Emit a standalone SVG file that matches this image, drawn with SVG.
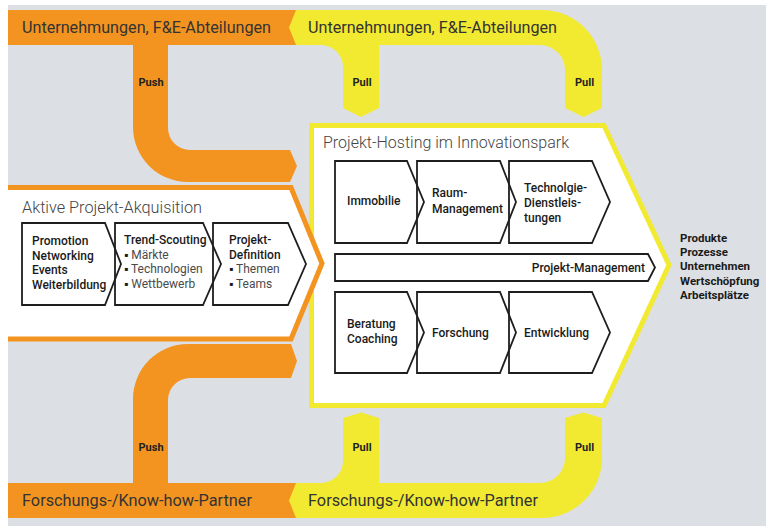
<svg xmlns="http://www.w3.org/2000/svg" width="766" height="526" viewBox="0 0 766 526">
  <style>
    .orange { fill: #f39420; }
    .yellow { fill: #f2ea30; }
    .band-label { font-family: Roboto, "Liberation Sans", sans-serif; font-size: 16.5px; font-weight: 400; fill: #333; }
    .title { font-family: Roboto, "Liberation Sans", sans-serif; font-size: 16.5px; font-weight: 300; fill: #444; }
    .flow { font-family: Roboto, "Liberation Sans", sans-serif; font-size: 11px; font-weight: 700; fill: #222; }
    .step { fill: none; stroke: #1e1e1e; stroke-width: 1.8; stroke-linejoin: miter; }
    .b { font-family: Roboto, "Liberation Sans", sans-serif; font-size: 12px; font-weight: 500; fill: #1a1a1a; }
    .li { font-family: Roboto, "Liberation Sans", sans-serif; font-size: 12px; font-weight: 400; fill: #4a4a4a; }
    .dot { fill: #1a1a1a; }
    .out { font-family: Roboto, "Liberation Sans", sans-serif; font-size: 11.5px; font-weight: 700; fill: #1a1a1a; }
  </style>

  <!-- page -->
  <rect x="0" y="0" width="766" height="526" fill="#ffffff"/>
  <rect x="8" y="5" width="758" height="521" fill="#dcdfe3"/>

  <!-- push / pull flows -->
  <g id="connectors">
    <!-- top: companies, push branch -->
    <rect class="orange" x="8" y="10" width="290" height="35"/>
    <path class="orange" d="M133,45 V127 A55,55 0 0 0 188,182 H290 L297,166 L290,150 H190 A22,22 0 0 1 168,128 V45 Z"/>
    <!-- top: companies, pull branches -->
    <path class="yellow" d="M296,10 H542 A60,60 0 0 1 602,70 V108 L583.5,117 L565,108 V70 A25,25 0 0 0 540,45 H379 V108 L361,117 L343,108 V67 A22,22 0 0 0 321,45 H296 L289,27.5 Z"/>
    <!-- bottom: partners, push branch -->
    <rect class="orange" x="8" y="483" width="290" height="35"/>
    <path class="orange" d="M133,483 V399 A55,55 0 0 1 188,344 H291 L297,361 L291,378 H190 A22,22 0 0 0 168,400 V483 Z"/>
    <!-- bottom: partners, pull branches -->
    <path class="yellow" d="M296,483 H321 A22,22 0 0 0 343,461 V418 L361,412.5 L379,418 V483 H540 A25,25 0 0 0 565,458 V418 L583.5,412.5 L602,418 V458 A60,60 0 0 1 542,518 H296 L289,500.5 Z"/>

    <text class="flow" x="138.5" y="86">Push</text>
    <text class="flow" x="352.5" y="86">Pull</text>
    <text class="flow" x="575" y="86">Pull</text>
    <text class="flow" x="138.5" y="451">Push</text>
    <text class="flow" x="352.5" y="451">Pull</text>
    <text class="flow" x="575" y="451">Pull</text>
  </g>

  <!-- sources -->
  <g id="unternehmen">
    <text class="band-label" x="22" y="33" textLength="249" lengthAdjust="spacingAndGlyphs">Unternehmungen, F&amp;E-Abteilungen</text>
    <text class="band-label" x="308" y="33" textLength="249" lengthAdjust="spacingAndGlyphs">Unternehmungen, F&amp;E-Abteilungen</text>
  </g>
  <g id="partner">
    <text class="band-label" x="22" y="506" textLength="230" lengthAdjust="spacingAndGlyphs">Forschungs-/Know-how-Partner</text>
    <text class="band-label" x="308" y="506" textLength="230" lengthAdjust="spacingAndGlyphs">Forschungs-/Know-how-Partner</text>
  </g>

  <!-- project hosting -->
  <g id="projekt-hosting">
    <path d="M311.5,125.5 H604 L669,265 L604,405.5 H311.5 Z" fill="#ffffff" stroke="#f2ea30" stroke-width="5" stroke-linejoin="miter"/>
    <text class="title" x="323" y="148" textLength="246" lengthAdjust="spacingAndGlyphs">Projekt-Hosting im Innovationspark</text>

    <g id="immobilie">
      <path class="step" d="M335,161 H407 L424,202 L407,243 H335 Z"/>
      <text class="b" x="347" y="205">Immobilie</text>
    </g>
    <g id="raum-management">
      <path class="step" d="M417,161 H500 L516,202 L500,243 H417 Z"/>
      <text class="b" x="432" y="197">Raum-</text>
      <text class="b" x="432" y="213">Management</text>
    </g>
    <g id="technologie-dienstleistungen">
      <path class="step" d="M509,161 H592 L610,202 L592,243 H509 Z"/>
      <text class="b" x="524" y="192">Technolgie-</text>
      <text class="b" x="524" y="207">Dienstleis-</text>
      <text class="b" x="524" y="222">tungen</text>
    </g>
    <g id="projekt-management">
      <path class="step" d="M335,254 H648 L655,267.5 L648,281 H335 Z"/>
      <text class="b" x="645" y="272" text-anchor="end">Projekt-Management</text>
    </g>
    <g id="beratung-coaching">
      <path class="step" d="M335,292 H407 L424,332.5 L407,373 H335 Z"/>
      <text class="b" x="347" y="328">Beratung</text>
      <text class="b" x="347" y="343">Coaching</text>
    </g>
    <g id="forschung">
      <path class="step" d="M417,292 H500 L516,332.5 L500,373 H417 Z"/>
      <text class="b" x="432" y="337">Forschung</text>
    </g>
    <g id="entwicklung">
      <path class="step" d="M509,292 H592 L610,332.5 L592,373 H509 Z"/>
      <text class="b" x="524" y="337">Entwicklung</text>
    </g>
  </g>

  <!-- active project acquisition -->
  <g id="projekt-akquisition">
    <path d="M8,187.5 H291 L322,263.5 L291,339 H8 Z" fill="#ffffff"/>
    <path d="M8,187.5 H291 L322,263.5 L291,339 H8" fill="none" stroke="#f39420" stroke-width="5" stroke-linejoin="miter"/>
    <text class="title" x="22" y="213" textLength="180" lengthAdjust="spacingAndGlyphs">Aktive Projekt-Akquisition</text>

    <g id="promotion">
      <path class="step" d="M22,223 H105 L121,264 L105,305 H22 Z"/>
      <text class="b" x="32" y="245">Promotion</text>
      <text class="b" x="32" y="259.5">Networking</text>
      <text class="b" x="32" y="274">Events</text>
      <text class="b" x="32" y="288.5">Weiterbildung</text>
    </g>
    <g id="trend-scouting">
      <path class="step" d="M115,223 H203 L221,264 L203,305 H115 Z"/>
      <text class="b" x="124" y="244">Trend-Scouting</text>
      <text class="li" x="124" y="258.5"><tspan class="dot">▪</tspan> Märkte</text>
      <text class="li" x="124" y="273"><tspan class="dot">▪</tspan> Technologien</text>
      <text class="li" x="124" y="287.5"><tspan class="dot">▪</tspan> Wettbewerb</text>
    </g>
    <g id="projekt-definition">
      <path class="step" d="M213,223 H288 L306,264 L288,305 H213 Z"/>
      <text class="b" x="229" y="244">Projekt-</text>
      <text class="b" x="229" y="258.5">Definition</text>
      <text class="li" x="229" y="273"><tspan class="dot">▪</tspan> Themen</text>
      <text class="li" x="229" y="287.5"><tspan class="dot">▪</tspan> Teams</text>
    </g>
  </g>

  <!-- outcomes -->
  <g id="ergebnisse">
    <text class="out" x="680" y="242">Produkte</text>
    <text class="out" x="680" y="256">Prozesse</text>
    <text class="out" x="680" y="270">Unternehmen</text>
    <text class="out" x="680" y="284.5">Wertschöpfung</text>
    <text class="out" x="680" y="299">Arbeitsplätze</text>
  </g>
</svg>
